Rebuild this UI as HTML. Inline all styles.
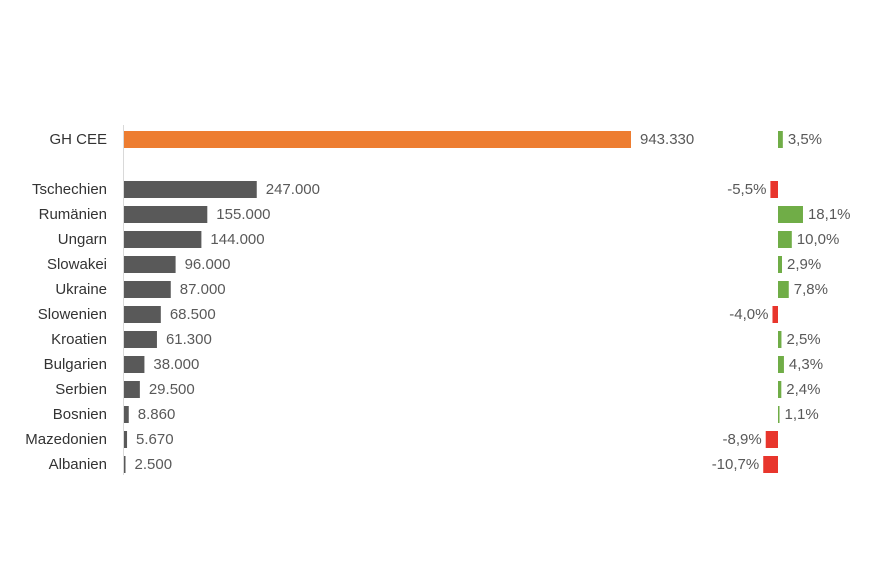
<!DOCTYPE html>
<html><head><meta charset="utf-8"><style>
html,body{margin:0;padding:0;background:#fff;}
svg{display:block;font-family:"Liberation Sans",sans-serif;}
</style></head><body>
<svg id="chart" width="872" height="580">
<line x1="123.5" y1="125" x2="123.5" y2="475" stroke="#d9d9d9" stroke-width="1"/>
<g id="bars"></g>
</svg>
<script>
const categories=["GH CEE","Tschechien","Rumänien","Ungarn","Slowakei","Ukraine","Slowenien","Kroatien","Bulgarien","Serbien","Bosnien","Mazedonien","Albanien"];
const values=[943330,247000,155000,144000,96000,87000,68500,61300,38000,29500,8860,5670,2500];
const valueLabels=["943.330","247.000","155.000","144.000","96.000","87.000","68.500","61.300","38.000","29.500","8.860","5.670","2.500"];
const growth=[3.5,-5.5,18.1,10.0,2.9,7.8,-4.0,2.5,4.3,2.4,1.1,-8.9,-10.7];
const growthLabels=["3,5%","-5,5%","18,1%","10,0%","2,9%","7,8%","-4,0%","2,5%","4,3%","2,4%","1,1%","-8,9%","-10,7%"];
const NS="http://www.w3.org/2000/svg";
const g=document.getElementById('bars');
const x0=124, xScale=v=>v*(507/943330);
const z0=778, gScale=v=>v*1.38;
const yPos=i=>i===0?139:189+(i-1)*25;
function mk(t,a){const e=document.createElementNS(NS,t);for(const k in a)e.setAttribute(k,a[k]);g.appendChild(e);return e;}
categories.forEach((c,i)=>{
  const y=yPos(i);
  const t=mk('text',{x:107,y:y+5,'text-anchor':'end','font-size':15,fill:'#333'});
  t.textContent=c;
  
  
  const w=Math.max(1.5,xScale(values[i]));
  const r=mk('rect',{x:x0,y:y-8,width:w,height:17,fill:i===0?'#ed7d31':'#595959'});
  
  
  const vt=mk('text',{x:x0+w+9,y:y+5,'font-size':15,fill:'#595959'});
  vt.textContent=valueLabels[i];
  
  
  const gv=growth[i], gw=Math.max(1.5,gScale(Math.abs(gv)));
  const gx=gv>=0?z0:z0-gw;
  const gr=mk('rect',{x:gx,y:y-8,width:gw,height:17,fill:gv>=0?'#70ad47':'#e8352c'});
  
  
  const gt=mk('text',{x:gv>=0?z0+gw+5:gx-4,y:y+5,'text-anchor':gv>=0?'start':'end','font-size':15,fill:'#595959'});
  gt.textContent=growthLabels[i];
  
  
});
</script>
</body></html>
